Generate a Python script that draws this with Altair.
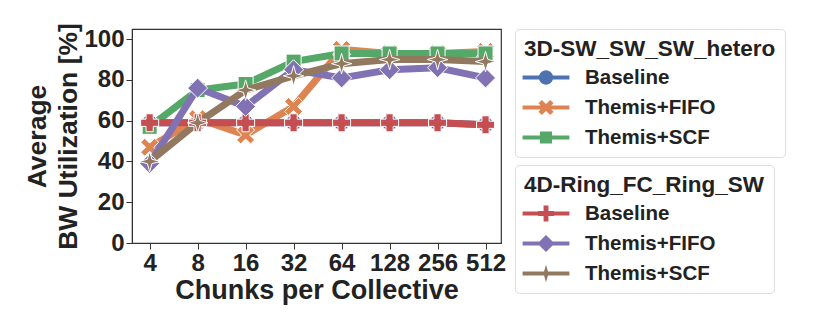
import math
import altair as alt
import pandas as pd

# ---- data ----
chunks = [4, 8, 16, 32, 64, 128, 256, 512]
series_names = ["Baseline", "Themis+FIFO", "Themis+SCF"]

sw_baseline = [59, 59, 59, 59, 59, 59, 59, 58]
sw_fifo = [47, 61, 53, 67, 95, 93, 93, 94]
sw_scf = [57, 75, 78, 89, 93, 93, 93, 93]

ring_baseline = [59, 59, 59, 59, 59, 59, 59, 58]
ring_fifo = [39, 76, 67, 85, 81, 85, 86, 81]
ring_scf = [40, 59, 75, 82, 88, 90, 90, 89]

group_titles = ["3D-SW_SW_SW_hetero", "4D-Ring_FC_Ring_SW"]
colors_3d = ["#4C72B0", "#DD8452", "#55A868"]
colors_4d = ["#C44E52", "#8172B3", "#937860"]


# ---- marker shapes (unit box -1..1), as polygons ----
def poly(pts, k=1.0):
    return "M" + " L".join(f"{x * k:.3f},{y * k:.3f}" for x, y in pts) + " Z"


X_PTS = [(-1, -0.55), (-0.55, -1), (0, -0.45), (0.55, -1), (1, -0.55), (0.45, 0),
         (1, 0.55), (0.55, 1), (0, 0.45), (-0.55, 1), (-1, 0.55), (-0.45, 0)]
STAR4_PTS = [(0, -1), (0.22, -0.22), (1, 0), (0.22, 0.22), (0, 1), (-0.22, 0.22),
             (-1, 0), (-0.22, -0.22)]
PLUS_PTS = [(-0.3, -1), (0.3, -1), (0.3, -0.3), (1, -0.3), (1, 0.3), (0.3, 0.3),
            (0.3, 1), (-0.3, 1), (-0.3, 0.3), (-1, 0.3), (-1, -0.3), (-0.3, -0.3)]
DIAMOND_PTS = [(0, -1), (1, 0), (0, 1), (-1, 0)]
SQUARE_PTS = [(-1, -1), (1, -1), (1, 1), (-1, 1)]
CIRCLE_PTS = [(math.cos(2 * math.pi * i / 32), math.sin(2 * math.pi * i / 32)) for i in range(32)]
LINE_PTS = [(-1.8, -0.15), (1.8, -0.15), (1.8, 0.15), (-1.8, 0.15)]

shapes_3d = ["circle", poly(X_PTS), "square"]
shapes_4d = ["cross", "diamond", poly(STAR4_PTS)]
sizes_3d = [256, 324, 225]
sizes_4d = [324, 400, 420]


def legend_path(pts, k):
    return poly(LINE_PTS) + " " + poly(pts, k)


legend_shapes_3d = [legend_path(CIRCLE_PTS, 0.55), legend_path(X_PTS, 0.58),
                    legend_path(SQUARE_PTS, 0.46)]
legend_shapes_4d = [legend_path(PLUS_PTS, 0.62), legend_path(DIAMOND_PTS, 0.66),
                    legend_path(STAR4_PTS, 0.68)]


def frame(values_list, group):
    rows = []
    for name, vals in zip(series_names, values_list):
        for c, v in zip(chunks, vals):
            rows.append({"chunks": c, "util": v, "series": name, "group": group})
    return pd.DataFrame(rows)


df3 = frame([sw_baseline, sw_fifo, sw_scf], group_titles[0])
df4 = frame([ring_baseline, ring_fifo, ring_scf], group_titles[1])

x_enc = alt.X(
    "chunks:Q",
    scale=alt.Scale(type="log", base=2, domain=[3.1, 640], nice=False),
    axis=alt.Axis(values=chunks, format="d", title="Chunks per Collective",
                  grid=False, labelFlush=False),
)
y_enc = alt.Y(
    "util:Q",
    scale=alt.Scale(domain=[0, 105], nice=False),
    axis=alt.Axis(values=[0, 20, 40, 60, 80, 100],
                  title=["Average", "BW Utilization [%]"], grid=False),
)


def group_layers(df, title, colors, shapes, sizes, legend_shapes):
    color_line = alt.Color("series:N", scale=alt.Scale(domain=series_names, range=colors),
                           legend=None)
    line = alt.Chart(df).mark_line(strokeWidth=7).encode(
        x=x_enc, y=y_enc, color=color_line, detail="series:N")
    pts = []
    for name, col, shp, sz in zip(series_names, colors, shapes, sizes):
        pts.append(
            alt.Chart(df).transform_filter(alt.datum.series == name)
            .mark_point(filled=True, opacity=1, shape=shp, size=sz, color=col,
                        stroke="white", strokeWidth=1)
            .encode(x=x_enc, y=y_enc)
        )
    leg = alt.Chart(df).transform_filter("false").mark_point(
        filled=True, opacity=1).encode(
        x=x_enc, y=y_enc,
        color=alt.Color("series:N", scale=alt.Scale(domain=series_names, range=colors),
                        legend=alt.Legend(title=title)),
        shape=alt.Shape("series:N", scale=alt.Scale(domain=series_names, range=legend_shapes),
                        legend=alt.Legend(title=title)),
    )
    return [line] + pts + [leg]


layers = (group_layers(df3, group_titles[0], colors_3d, shapes_3d, sizes_3d, legend_shapes_3d)
          + group_layers(df4, group_titles[1], colors_4d, shapes_4d, sizes_4d, legend_shapes_4d))

FONT = "Liberation Sans"

chart = alt.layer(*layers).resolve_scale(color="independent", shape="independent").properties(
    width=369, height=214,
    padding={"left": 16, "top": 14, "right": 5, "bottom": 5},
).configure_view(
    stroke="#333333", strokeWidth=1.2,
).configure_axis(
    labelFont=FONT, labelFontSize=24, labelFontWeight="bold", labelColor="#222222",
    titleFont=FONT, titleFontSize=26.5, titleFontWeight="bold", titleColor="#222222",
    domainColor="#333333", tickColor="#333333", tickSize=6, labelPadding=2,
).configure_axisY(
    titlePadding=1, titleLineHeight=31,
).configure_axisX(
    titlePadding=2, titleFontSize=27,
).configure_legend(
    titleFont=FONT, titleFontSize=22.5, titleFontWeight="bold", titleColor="#222222",
    labelFont=FONT, labelFontSize=20.5, labelFontWeight="bold", labelColor="#222222",
    titleLimit=500, labelLimit=400,
    strokeColor="#dddddd", cornerRadius=4, padding=9, fillColor="white",
    symbolSize=676, symbolStrokeWidth=0, symbolOffset=9, offset=14, rowPadding=6,
    labelOffset=26, titlePadding=4, symbolOpacity=1,
)

chart.save("out.html", embed_options={"renderer": "svg", "actions": False})
